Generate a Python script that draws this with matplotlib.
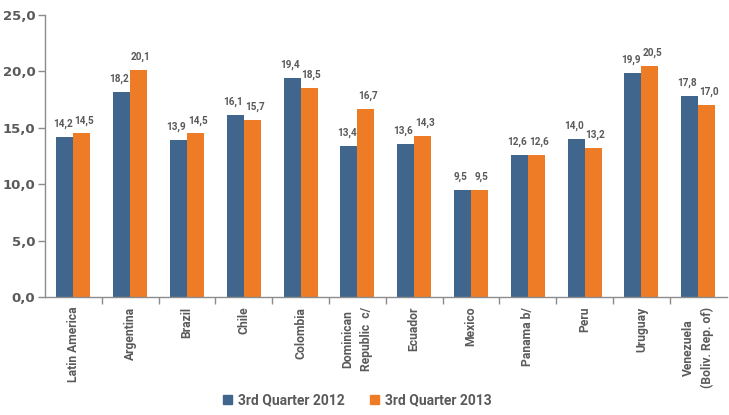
import matplotlib
matplotlib.use("Agg")
import matplotlib.pyplot as plt
from matplotlib.patches import Patch
import numpy as np

categories = ["Latin America", "Argentina", "Brazil", "Chile", "Colombia",
              "Dominican\nRepublic  c/", "Ecuador", "Mexico", "Panama b/",
              "Peru", "Uruguay", "Venezuela\n(Boliv. Rep. of)"]
q3_2012 = [14.2, 18.2, 13.9, 16.1, 19.4, 13.4, 13.6, 9.5, 12.6, 14.0, 19.9, 17.8]
q3_2013 = [14.5, 20.1, 14.5, 15.7, 18.5, 16.7, 14.3, 9.5, 12.6, 13.2, 20.5, 17.0]
series_names = ["3rd Quarter 2012", "3rd Quarter 2013"]
yticks = [0, 5, 10, 15, 20, 25]

blue = "#41668d"
orange = "#ee7b25"
grey = "#5a5a5a"
axis_grey = "#8c8c8c"
label_font = ["Roboto", "DejaVu Sans"]

fig = plt.figure(figsize=(7.29, 4.15), dpi=100)
ax = fig.add_axes([0.0617, 0.2843, 0.935, 0.6796])

x = np.arange(len(categories))
w = 0.3
ax.bar(x - w / 2, q3_2012, width=w, color=blue, label=series_names[0])
ax.bar(x + w / 2, q3_2013, width=w, color=orange, label=series_names[1])

for xi, v in zip(x, q3_2012):
    ax.text(xi - w / 2 - 0.04, v + 0.7, f"{v:.1f}".replace(".", ","),
            ha="center", va="bottom", fontsize=7.2, color=grey,
            family=label_font, fontweight="bold")
for xi, v in zip(x, q3_2013):
    ax.text(xi + w / 2 + 0.04, v + 0.7, f"{v:.1f}".replace(".", ","),
            ha="center", va="bottom", fontsize=7.2, color=grey,
            family=label_font, fontweight="bold")

ax.set_xlim(-0.5, len(categories) - 0.5)
ax.set_ylim(0, 25)
ax.set_yticks(yticks)
ax.set_yticklabels([f"{t:.1f}".replace(".", ",") for t in yticks],
                   fontsize=9.5, color=grey, fontweight="bold")

ax.set_xticks(x)
ax.set_xticklabels(categories, rotation=90, fontsize=8.7, color=grey,
                   family=label_font, fontweight="bold", va="top", linespacing=1.55)
ax.tick_params(axis="x", length=0, pad=7)
ax.set_xticks(np.arange(0.5, len(categories) - 0.5, 1), minor=True)
ax.tick_params(axis="x", which="minor", length=5, color=axis_grey, width=1, direction="out")
ax.tick_params(axis="y", length=5, color=axis_grey, width=1, direction="out", pad=2)

for s in ["top", "right"]:
    ax.spines[s].set_visible(False)
for s in ["left", "bottom"]:
    ax.spines[s].set_color(axis_grey)
    ax.spines[s].set_linewidth(1)

handles = [Patch(color=blue), Patch(color=orange)]
fig.legend(handles, series_names, loc="lower center", bbox_to_anchor=(0.49, -0.012),
           ncol=2, frameon=False, handlelength=0.7, handleheight=0.7,
           handletextpad=0.4, columnspacing=1.8,
           prop={"family": label_font, "weight": "bold", "size": 10}, labelcolor=grey)

fig.savefig("out.png", dpi=100)
